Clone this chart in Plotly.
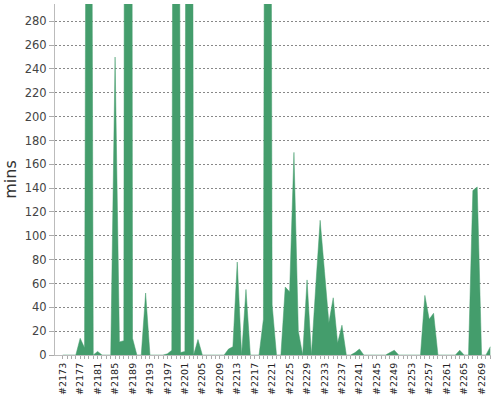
import plotly.graph_objects as go

# build numbers #2173 .. #2271
builds = [f"#{n}" for n in range(2173, 2272)]

# minutes per build (tall bars run far past the top of the axis)
mins = [
    0, 0, 0, 0, 14, 6, 1240, 0, 3, 0,
    0, 0, 250, 11, 12, 3400, 14, 0, 0, 52,
    0, 0, 0, 0, 1, 4, 1800, 2, 3, 2000,
    0, 13, 0, 0, 0, 0, 0, 0, 5, 7,
    78, 0, 55, 0, 0, 0, 30, 1600, 42, 0,
    0, 57, 53, 170, 20, 0, 63, 0, 58, 113,
    70, 27, 48, 10, 25, 0, 0, 2, 5, 0,
    0, 0, 0, 0, 0, 2, 4, 0, 0, 0,
    0, 0, 0, 50, 30, 35, 0, 0, 0, 0,
    0, 4, 0, 0, 138, 141, 0, 0, 7,
]

tick_labels = [b if i % 4 == 0 else "" for i, b in enumerate(builds)]

GREEN = "rgb(68,157,108)"
FONT = "DejaVu Sans"

fig = go.Figure(
    go.Scatter(
        x=builds,
        y=mins,
        mode="lines",
        fill="tozeroy",
        fillcolor=GREEN,
        line=dict(color=GREEN, width=0.5),
        hoverinfo="x+y",
    )
)

fig.update_layout(
    width=500,
    height=400,
    margin=dict(l=55, r=9, t=4, b=45),
    paper_bgcolor="white",
    plot_bgcolor="white",
    showlegend=False,
    font=dict(family=FONT, color="#444"),
)

fig.update_xaxes(
    type="category",
    range=[-1.77, 98.16],
    tickmode="array",
    tickvals=builds,
    ticktext=tick_labels,
    tickangle=-90,
    tickfont=dict(family=FONT, size=9.5, color="#222"),
    ticks="outside",
    ticklen=3,
    tickcolor="#aaa",
    showline=True,
    linecolor="#bbb",
    linewidth=1,
    showgrid=False,
    zeroline=False,
    automargin=False,
)

fig.update_yaxes(
    range=[0, 294.5],
    tick0=0,
    dtick=20,
    tickfont=dict(family=FONT, size=11.5, color="#444"),
    ticks="outside",
    ticklen=5,
    tickcolor="#aaa",
    showline=True,
    linecolor="#bbb",
    linewidth=1,
    showgrid=True,
    gridcolor="#888",
    griddash="2px,2px",
    gridwidth=1,
    zeroline=False,
    automargin=False,
    title=dict(text="mins", font=dict(family=FONT, size=16, color="#333"), standoff=4),
)

# drop the default page margin so the 500x400 figure sits at the window corner
fig.write_html(
    "out.html",
    config={"displayModeBar": False},
    post_script="document.body.style.margin = '0';",
)
